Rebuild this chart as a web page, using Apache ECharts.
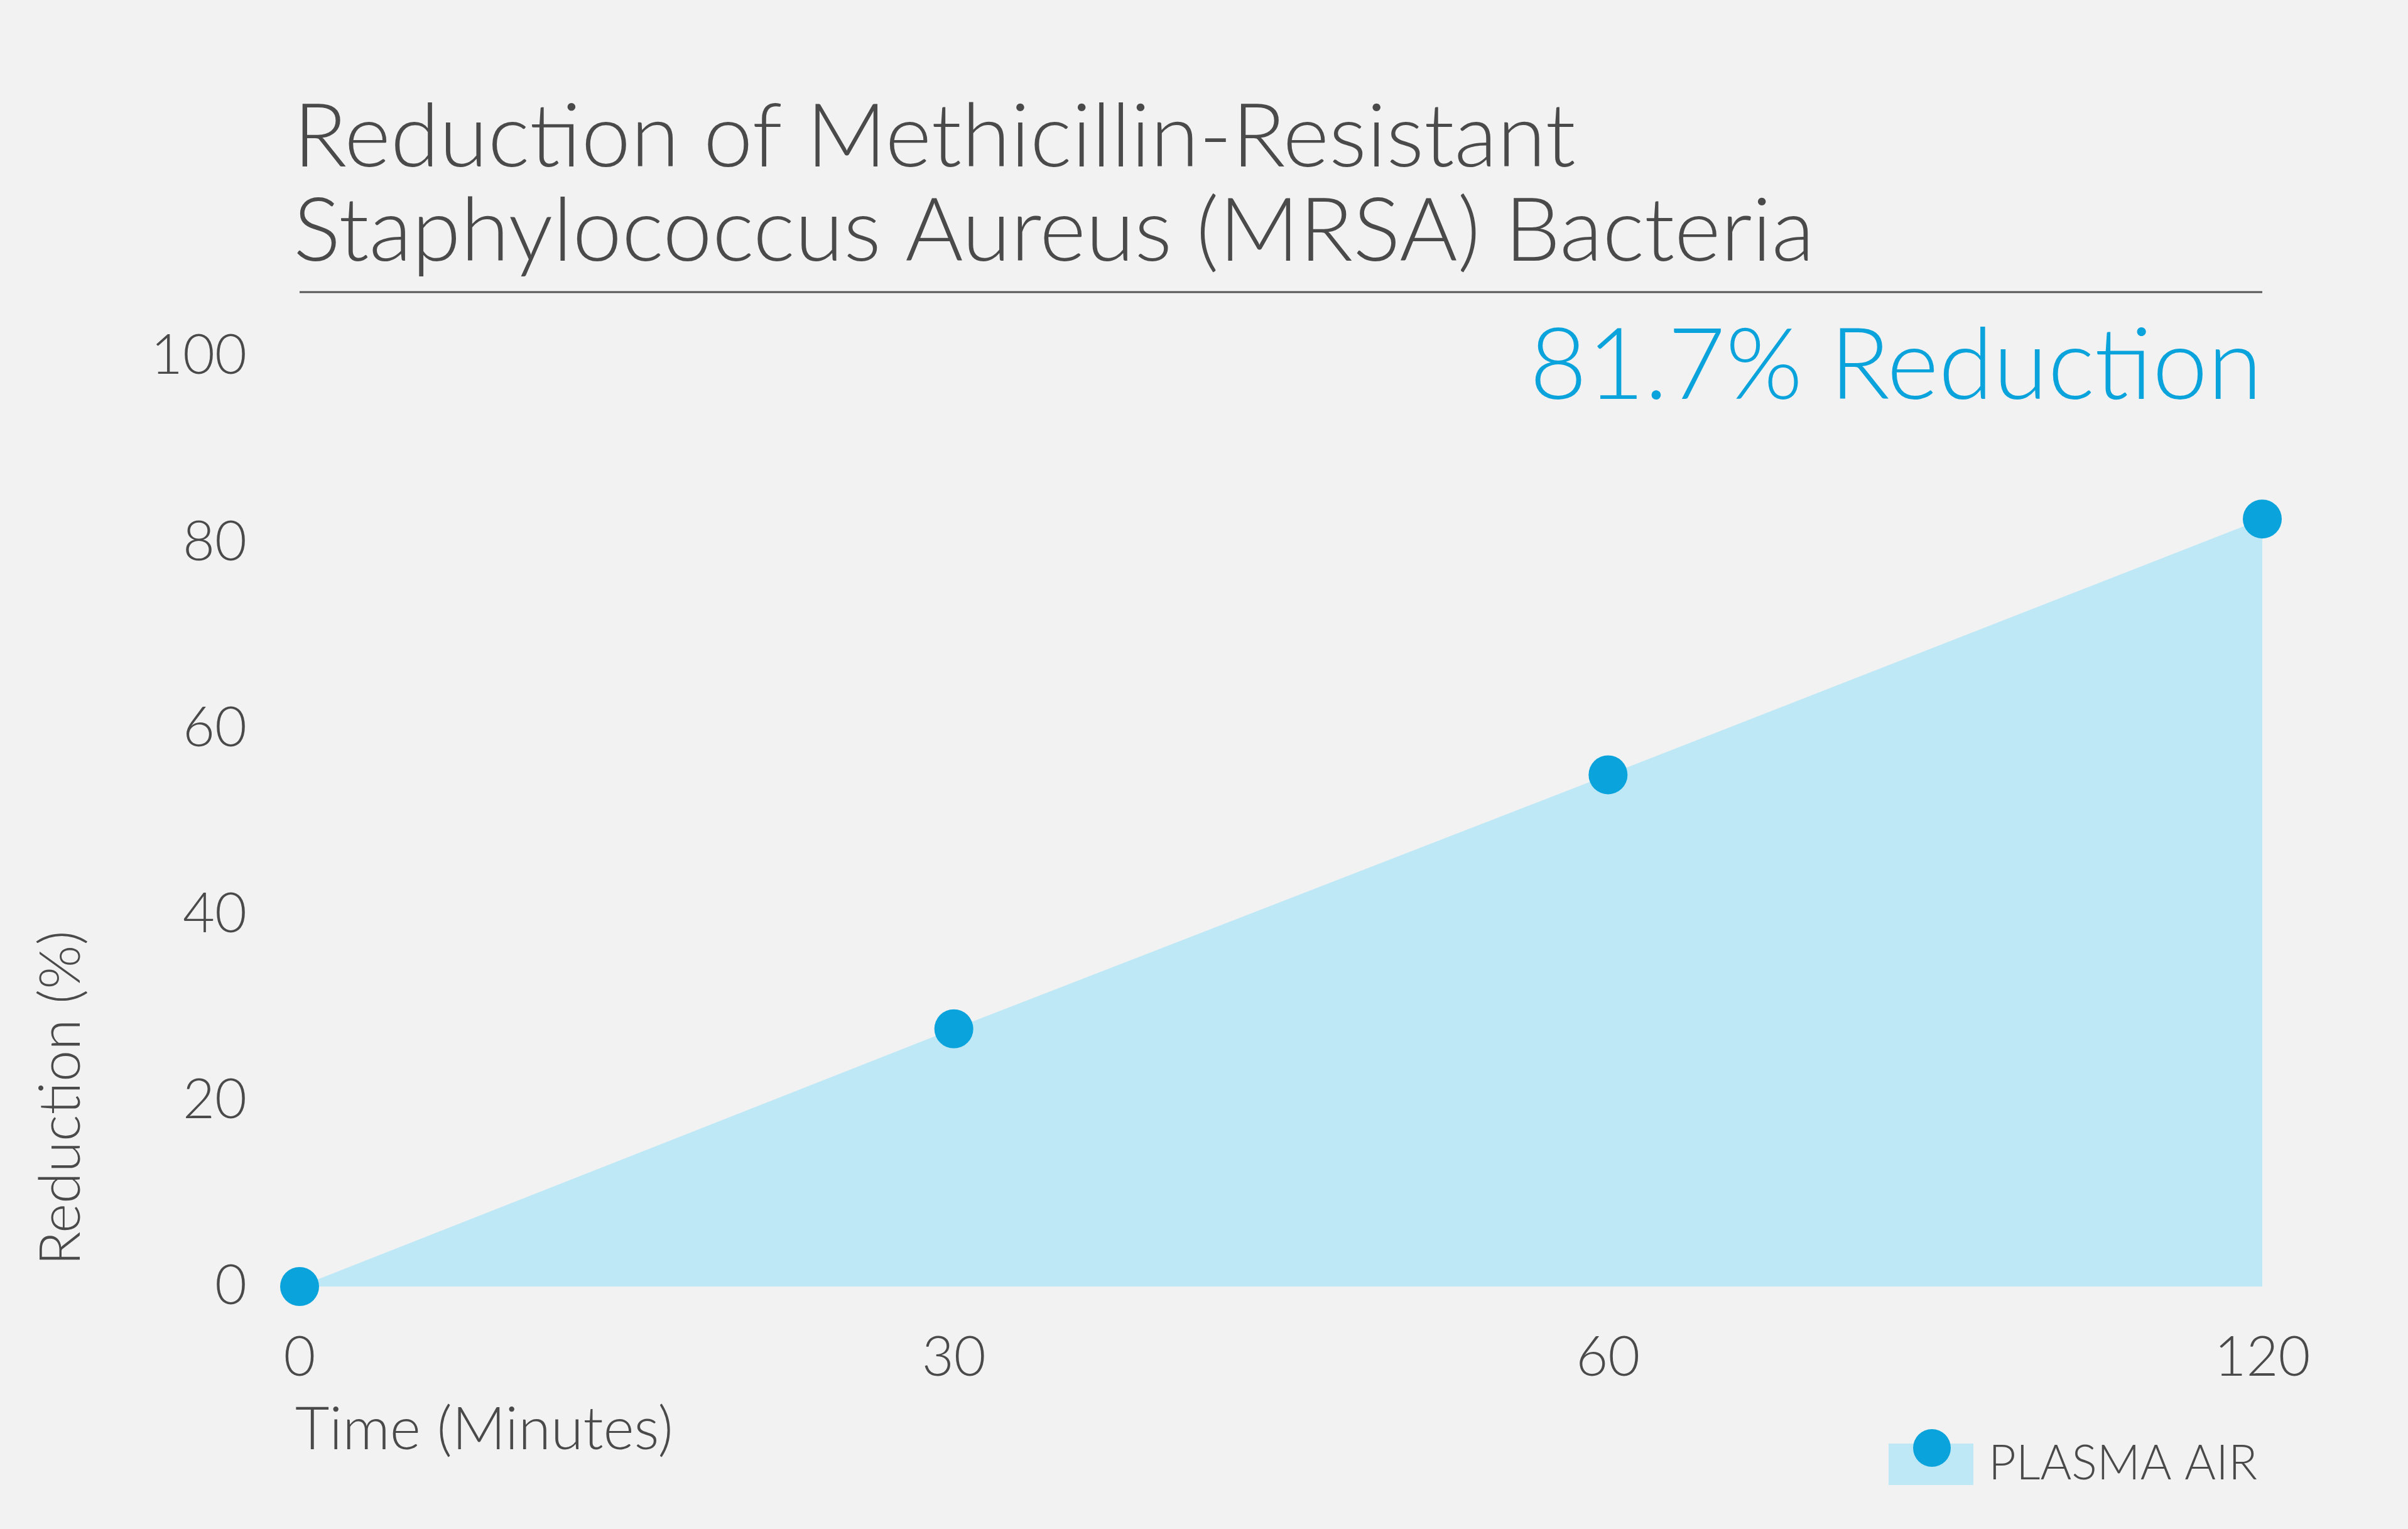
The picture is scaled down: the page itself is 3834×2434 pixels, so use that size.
<!DOCTYPE html>
<html><head><meta charset="utf-8">
<script src="https://cdn.jsdelivr.net/npm/echarts@6/dist/echarts.min.js"></script>
<style>html,body{margin:0;padding:0;background:#f2f2f2}#c{width:3834px;height:2434px}</style>
</head><body><div id="c"></div>
<script>
const categories = ['0', '30', '60', '120'];
const reduction = [0, 27.7, 55, 82.5];
const yTicks = [0, 20, 40, 60, 80, 100];
const F = 'Lato';
const chart = echarts.init(document.getElementById('c'));
chart.setOption({
  backgroundColor: '#f2f2f2',
  animation: false,
  title: {
    text: 'Reduction of Methicillin-Resistant\nStaphylococcus Aureus (MRSA) Bacteria',
    left: 462, top: 140,
    textStyle: {fontFamily: F, fontWeight: 300, fontSize: 141, color: '#4a4a4a', lineHeight: 150}
  },
  grid: {left: 477, right: 232, top: 567, bottom: 386},
  xAxis: {
    type: 'category', data: categories, boundaryGap: false,
    axisLine: {show: false}, axisTick: {show: false},
    axisLabel: {fontFamily: F, fontWeight: 300, fontSize: 88, color: '#4a4a4a', margin: 70}
  },
  yAxis: {
    type: 'value', min: 0, max: 100, interval: 20,
    splitLine: {show: false}, axisLine: {show: false}, axisTick: {show: false},
    axisLabel: {fontFamily: F, fontWeight: 300, fontSize: 88, color: '#4a4a4a', margin: 84}
  },
  series: [{
    type: 'line', data: reduction,
    symbol: 'circle', symbolSize: 62,
    itemStyle: {color: '#0aa3dc'},
    lineStyle: {width: 0},
    areaStyle: {color: '#bfe8f6', opacity: 1}
  }],
  graphic: [
    {type: 'line', shape: {x1: 477, y1: 465, x2: 3602, y2: 465}, style: {stroke: '#555', lineWidth: 3}},
    {type: 'text', right: 232, top: 505, style: {text: '81.7% Reduction', font: '300 158px Lato', fill: '#0aa3dc', textAlign: 'right'}},
    {type: 'text', x: 98, y: 1748, rotation: Math.PI / 2, style: {text: 'Reduction (%)', font: '300 90px Lato', fill: '#4a4a4a', textAlign: 'center', textVerticalAlign: 'middle'}},
    {type: 'text', x: 470, y: 2230, style: {text: 'Time (Minutes)', font: '300 94px Lato', fill: '#4a4a4a'}},
    {type: 'rect', shape: {x: 3007, y: 2298, width: 135, height: 66}, style: {fill: '#bfe8f6'}},
    {type: 'circle', shape: {cx: 3076, cy: 2305, r: 30}, style: {fill: '#0aa3dc'}},
    {type: 'text', x: 3166, y: 2330, style: {text: 'PLASMA AIR', font: '300 76px Lato', fill: '#4a4a4a', textVerticalAlign: 'middle'}}
  ]
});
</script></body></html>
